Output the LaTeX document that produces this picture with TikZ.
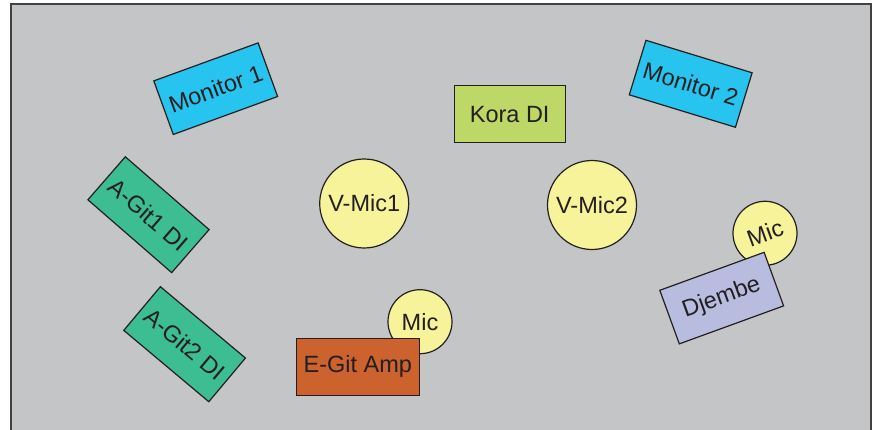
\documentclass[tikz,border=0pt]{standalone}
\usepackage{fontspec}
\setmainfont{Liberation Sans}
\definecolor{bggray}{HTML}{C4C5C7}
\definecolor{monblue}{HTML}{27C4F0}
\definecolor{koragreen}{HTML}{BDD867}
\definecolor{gitgreen}{HTML}{3DBD92}
\definecolor{amporange}{HTML}{CC622D}
\definecolor{djlav}{HTML}{B8BDE0}
\definecolor{micyellow}{HTML}{F6F39A}
\definecolor{ink}{HTML}{231F20}
\begin{document}
\begin{tikzpicture}[x=1pt,y=-1pt,
  every node/.style={font=\fontsize{23.5}{28}\selectfont, text=ink, draw=ink, line width=1.2pt, inner sep=0pt},
  box/.style={rectangle, minimum width=111pt, minimum height=57pt},
  micc/.style={circle, fill=micyellow, minimum size=64pt},
  vmic/.style={circle, fill=micyellow, minimum size=89pt}]
\useasboundingbox (0,0) rectangle (877,430);
\clip (0,0) rectangle (877,430);
\draw[fill=bggray, draw=ink!85, line width=2pt] (11,4.5) rectangle (871,445);
% microphones behind boxes
\node[micc] (mic1) at (420,321.7) {Mic};
\node[micc, rotate=20] (mic2) at (765,233.3) {Mic};
\node[vmic] (vmic1) at (364.2,203.5) {V-Mic1};
\node[vmic] (vmic2) at (592,205) {V-Mic2};
% boxes
\node[box, fill=monblue, rotate=20] (mon1) at (215.7,88.7) {Monitor 1};
\node[box, fill=monblue, rotate=-17] (mon2) at (690.7,83.8) {Monitor 2};
\node[box, fill=koragreen] (kora) at (509.7,114.3) {Kora DI};
\node[box, fill=gitgreen, rotate=-41] (agit1) at (148.5,214.7) {A-Git1 DI};
\node[box, fill=gitgreen, rotate=-40] (agit2) at (184.6,344.2) {A-Git2 DI};
\node[box, fill=amporange, minimum width=123pt] (amp) at (357.8,366.7) {E-Git Amp};
\node[box, fill=djlav, rotate=20] (djembe) at (721.7,298.1) {Djembe};
\end{tikzpicture}
\end{document}
